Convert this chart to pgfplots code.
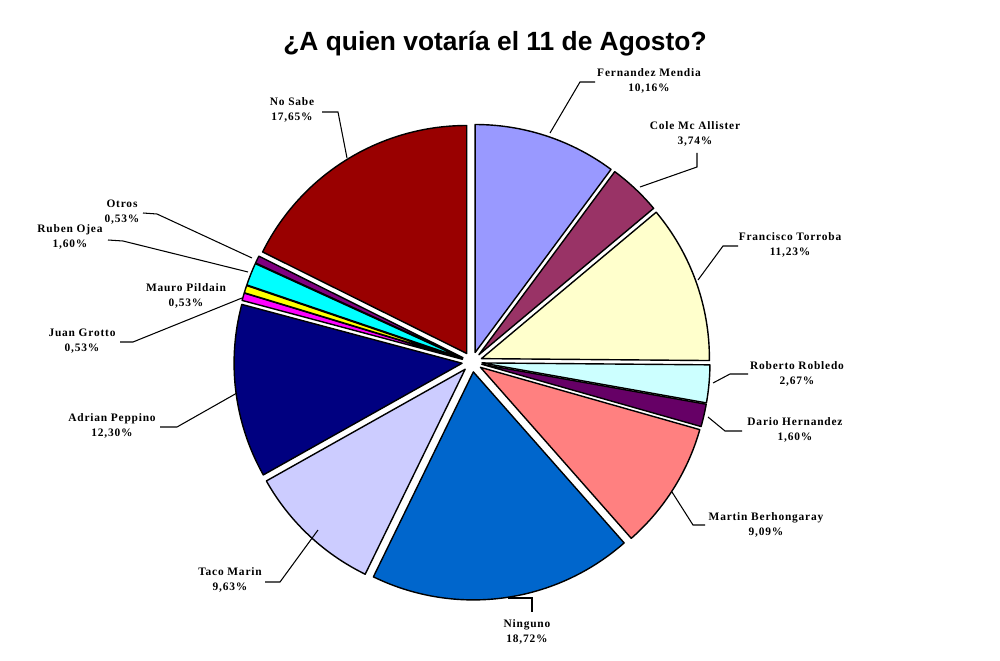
\documentclass[border=0pt]{standalone}
\usepackage{pgfplots}
\pgfplotsset{compat=1.18}
\usepackage{fontspec}
\setmainfont{Liberation Serif}
\newfontfamily\titlefont{Liberation Sans}
\newfontfamily\lblfont[LetterSpace=7]{Liberation Serif}

\definecolor{cFer}{HTML}{9999FF}
\definecolor{cCole}{HTML}{993366}
\definecolor{cFra}{HTML}{FFFFCC}
\definecolor{cRob}{HTML}{CCFFFF}
\definecolor{cDar}{HTML}{660066}
\definecolor{cMar}{HTML}{FF8080}
\definecolor{cNin}{HTML}{0066CC}
\definecolor{cTac}{HTML}{CCCCFF}
\definecolor{cAdr}{HTML}{000080}
\definecolor{cJua}{HTML}{FF00FF}
\definecolor{cMau}{HTML}{FFFF00}
\definecolor{cRub}{HTML}{00FFFF}
\definecolor{cOtr}{HTML}{800080}
\definecolor{cNoS}{HTML}{990000}

% pie geometry (pixel units)
\def\cx{472}\def\cy{362}\def\R{228}\def\ex{10}\def\tot{99.98}
\gdef\cum{0}
\newcommand{\slice}[2]{%
  \pgfmathsetmacro\aA{\cum/\tot*360}%
  \pgfmathsetmacro\aB{(\cum+#2)/\tot*360}%
  \pgfmathsetmacro\aM{(\aA+\aB)/2}%
  \pgfmathsetmacro\ox{\cx+\ex*sin(\aM)}%
  \pgfmathsetmacro\oy{\cy-\ex*cos(\aM)}%
  \edef\doslice{\noexpand\addplot[draw=black, fill=#1, line width=0.8pt, line join=round, domain=\aA:\aB, samples=60, variable=\noexpand\t] ({\ox+\R*sin(\noexpand\t)},{\oy-\R*cos(\noexpand\t)}) -- (axis cs:\ox,\oy) -- cycle;}%
  \doslice
  \pgfmathsetmacro\newcum{\cum+#2}\global\let\cum\newcum
}
\newcommand{\lbl}[4]{\node[align=center, inner sep=0pt, font=\lblfont\bfseries\fontsize{6.5}{8.5}\selectfont] at (axis cs:#1,#2) {#3\\#4};}

\begin{document}
\begin{tikzpicture}
\begin{axis}[
  scale only axis, width=20cm, height=13.22cm,
  xmin=0, xmax=1000, ymin=0, ymax=661, y dir=reverse,
  hide axis, clip=false]
% values in percent, clockwise from 12 o'clock
\slice{cFer}{10.16}
\slice{cCole}{3.74}
\slice{cFra}{11.23}
\slice{cRob}{2.67}
\slice{cDar}{1.60}
\slice{cMar}{9.09}
\slice{cNin}{18.72}
\slice{cTac}{9.63}
\slice{cAdr}{12.30}
\slice{cJua}{0.53}
\slice{cMau}{0.53}
\slice{cRub}{1.60}
\slice{cOtr}{0.53}
\slice{cNoS}{17.65}

% leader lines
\addplot[black, line width=0.6pt] coordinates {(550,133) (580,82) (595,82)};
\addplot[black, line width=0.6pt] coordinates {(640,187) (697,167) (697,153)};
\addplot[black, line width=0.6pt] coordinates {(698,280) (723,246) (738,246)};
\addplot[black, line width=0.6pt] coordinates {(713,383) (730,374) (748,374)};
\addplot[black, line width=0.6pt] coordinates {(708,417) (725,431) (742,431)};
\addplot[black, line width=0.6pt] coordinates {(672,492) (693,525) (705,525)};
\addplot[black, line width=0.6pt] coordinates {(508,598) (532,598) (532,612)};
\addplot[black, line width=0.6pt] coordinates {(318,530) (280,582) (265,582)};
\addplot[black, line width=0.6pt] coordinates {(237,393) (177,427) (160,427)};
\addplot[black, line width=0.6pt] coordinates {(242,298) (133,342) (120,342)};
\addplot[black, line width=0.6pt] coordinates {(248,272) (123,241) (108,240)};
\addplot[black, line width=0.6pt] coordinates {(252,258) (157,214) (143,213)};
\addplot[black, line width=0.6pt] coordinates {(347,158) (338,112) (322,112)};

% labels
\lbl{649}{80.5}{Fernandez Mendia}{10,16\%}
\lbl{695}{133.5}{Cole Mc Allister}{3,74\%}
\lbl{790}{244.5}{Francisco Torroba}{11,23\%}
\lbl{797}{373.5}{Roberto Robledo}{2,67\%}
\lbl{795}{429.5}{Dario Hernandez}{1,60\%}
\lbl{766}{524.5}{Martin Berhongaray}{9,09\%}
\lbl{527}{632}{Ninguno}{18,72\%}
\lbl{230}{579.5}{Taco Marin}{9,63\%}
\lbl{112}{425.5}{Adrian Peppino}{12,30\%}
\lbl{82}{341}{Juan Grotto}{0,53\%}
\lbl{186}{296}{Mauro Pildain}{0,53\%}
\lbl{70}{237}{Ruben Ojea}{1,60\%}
\lbl{122}{212}{Otros}{0,53\%}
\lbl{292}{110}{No Sabe}{17,65\%}

\node[font=\titlefont\bfseries\fontsize{15}{18}\selectfont, inner sep=0pt] at (axis cs:495,44) {¿A quien votaría el 11 de Agosto?};
\end{axis}
\pgfresetboundingbox
\path (current axis.south west) rectangle (current axis.north east);
\end{tikzpicture}
\end{document}
